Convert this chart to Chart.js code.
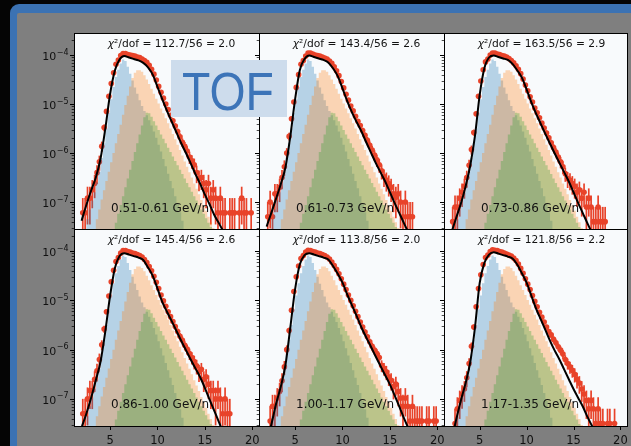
<!DOCTYPE html>
<html>
<head>
<meta charset="utf-8">
<title>TOF template fits</title>
<script src="https://cdn.jsdelivr.net/npm/chart.js@4.4.1/dist/chart.umd.min.js"></script>
<style>
  html, body { margin: 0; padding: 0; background: #050505; overflow: hidden; }
  #stage { position: relative; width: 631px; height: 446px; overflow: hidden; background: #050505; }
  #frame { position: absolute; left: 10px; top: 4px; width: 640px; height: 460px; background: #3b72b3; border-top-left-radius: 9px; }
  #sheet { position: absolute; left: 17px; top: 13px; width: 640px; height: 460px; background: #7f7f7f; border-top-left-radius: 2px; }
  canvas.panel { position: absolute; left: 0; top: 0; }
  #tof { position: absolute; left: 171px; top: 60px; width: 116px; height: 57px; background: #cddcec; overflow: hidden; }
  #tof span { position: absolute; left: 10.7px; top: 5px; font-family: "Liberation Sans", Arial, sans-serif;
              font-size: 53px; line-height: 53px; color: #3c74b8; transform: scaleX(0.875); transform-origin: 0 0; white-space: nowrap; }
</style>
</head>
<body>
<div id="stage">
  <div id="frame"></div>
  <div id="sheet"></div>
  <div id="tof"><span>TOF</span></div>
</div>
<script>
// ---- labels -------------------------------------------------------------
const ENERGY_BINS = ['0.51-0.61 GeV/n', '0.61-0.73 GeV/n', '0.73-0.86 GeV/n',
                     '0.86-1.00 GeV/n', '1.00-1.17 GeV/n', '1.17-1.35 GeV/n'];
const CHI2 = [112.7, 143.4, 163.5, 145.4, 113.8, 121.8];
const NDOF = 56;

// ---- axes ---------------------------------------------------------------
const X_TICKS = [5, 10, 15, 20];
const Y_TICKS = [1e-4, 1e-5, 1e-6, 1e-7];
const Y_TICK_EXP = ['−4', '−5', '−6', '−7'];

// ---- binning (bin centres) ----------------------------------------------
const BIN_FIRST = 2.125, BIN_STEP = 0.25;   // measured spectrum and templates
const FIT_FIRST = 2.0, FIT_STEP = 0.5;      // total fit curve

// ---- template components (log10 of normalised counts), shared shape ------
const BLUE_FIRST = 2.125;
const blueLog = [-7.80,-7.55,-7.35,-7.15,-6.97,-6.80,-6.60,-6.38,-6.10,-5.80,-5.50,-5.18,
                 -4.90,-4.65,-4.45,-4.30,-4.17,-4.09,-4.12,-4.24,-4.38,-4.52,-4.66,-4.79,
                 -4.92,-5.04,-5.14,-5.23,-5.33,-5.44,-5.56,-5.69,-5.83,-5.97,-6.12,-6.27,
                 -6.42,-6.57,-6.72,-6.88,-7.04,-7.21,-7.38,-7.56,-7.75,-7.95];
const ORANGE_FIRST = 3.125;
const orangeLog = [-7.75,-7.55,-7.35,-7.15,-6.95,-6.76,-6.57,-6.38,-6.19,-6.00,-5.80,-5.61,
                   -5.42,-5.22,-5.02,-4.83,-4.64,-4.47,-4.36,-4.31,-4.31,-4.34,-4.41,-4.50,
                   -4.59,-4.69,-4.79,-4.89,-4.99,-5.09,-5.19,-5.29,-5.39,-5.50,-5.61,-5.72,
                   -5.83,-5.94,-6.05,-6.17,-6.28,-6.39,-6.50,-6.62,-6.73,-6.84,-6.96,-7.07,
                   -7.18,-7.30,-7.41,-7.53,-7.64];
const GREEN_FIRST = 5.125;
const greenLog = [-7.77,-7.60,-7.42,-7.24,-7.06,-6.88,-6.70,-6.52,-6.34,-6.16,-5.98,-5.80,
                  -5.62,-5.44,-5.27,-5.18,-5.19,-5.26,-5.35,-5.44,-5.53,-5.62,-5.71,-5.80,
                  -5.89,-5.98,-6.07,-6.16,-6.25,-6.34,-6.43,-6.52,-6.61,-6.70,-6.79,-6.88,
                  -6.97,-7.06,-7.15,-7.24,-7.33,-7.42,-7.51,-7.60,-7.69];

// ---- total fit per energy bin (log10) ------------------------------------
const fitLog = [
  [-7.38,-7.06,-6.77,-6.50,-6.11,-5.50,-4.80,-4.32,-4.09,-4.02,-4.05,-4.08,-4.11,-4.16,-4.25,-4.40,
   -4.65,-4.90,-5.14,-5.36,-5.58,-5.80,-6.00,-6.21,-6.43,-6.63,-6.85,-7.05,-7.27,-7.44,-7.62],
  [-7.50,-7.22,-6.93,-6.63,-6.28,-5.66,-4.91,-4.31,-4.08,-4.01,-4.04,-4.07,-4.10,-4.15,-4.27,-4.43,
   -4.68,-4.94,-5.17,-5.37,-5.56,-5.78,-5.99,-6.20,-6.39,-6.58,-6.80,-7.02,-7.23,-7.44,-7.64],
  [-7.62,-7.32,-7.03,-6.68,-6.25,-5.65,-4.82,-4.27,-4.05,-4.01,-4.04,-4.07,-4.10,-4.18,-4.31,-4.46,
   -4.70,-4.96,-5.19,-5.40,-5.61,-5.81,-6.01,-6.20,-6.39,-6.58,-6.80,-7.02,-7.23,-7.44,-7.64],
  [-7.58,-7.30,-6.98,-6.62,-6.24,-5.63,-4.91,-4.35,-4.10,-4.04,-4.07,-4.10,-4.13,-4.18,-4.33,-4.50,
   -4.76,-5.03,-5.23,-5.42,-5.62,-5.82,-6.01,-6.20,-6.38,-6.56,-6.78,-7.02,-7.25,-7.48,-7.72],
  [-7.86,-7.52,-7.10,-6.75,-6.30,-5.55,-4.78,-4.27,-4.08,-4.04,-4.07,-4.10,-4.13,-4.17,-4.30,-4.46,
   -4.64,-4.88,-5.10,-5.32,-5.55,-5.75,-5.94,-6.14,-6.33,-6.52,-6.71,-6.93,-7.16,-7.40,-7.62],
  [-7.86,-7.42,-7.03,-6.68,-6.25,-5.55,-4.65,-4.24,-4.07,-4.02,-4.05,-4.08,-4.11,-4.15,-4.27,-4.45,
   -4.64,-4.90,-5.16,-5.38,-5.60,-5.82,-6.02,-6.20,-6.40,-6.60,-6.80,-6.98,-7.16,-7.37,-7.56]
];

// ---- measured spectra (log10) and relative errors ------------------------
const dataLog = [
  [-7.22,-7.22,-6.92,-6.92,-6.75,-6.62,-6.40,-6.18,-5.86,-5.48,-5.15,-4.84,
   -4.58,-4.36,-4.19,-4.10,-4.01,-3.97,-3.97,-3.99,-4.00,-4.01,-4.02,-4.04,
   -4.05,-4.08,-4.11,-4.15,-4.21,-4.29,-4.39,-4.51,-4.64,-4.76,-4.88,-5.00,
   -5.11,-5.23,-5.34,-5.45,-5.56,-5.67,-5.78,-5.86,-5.96,-6.08,-6.16,-6.24,
   -6.40,-6.52,-6.50,-6.62,-6.75,-6.62,-6.92,-6.75,-6.92,-7.22,-6.92,-7.22,
   -7.22,null,-7.22,-7.22,-7.22,null,-7.22,-6.92,-7.22,-7.22,null,-7.22],
  [-7.30,-7.00,-7.30,-6.83,-6.83,-6.70,-6.50,-6.28,-6.00,-5.66,-5.30,-4.96,
   -4.66,-4.40,-4.19,-4.11,-4.02,-3.96,-3.96,-3.98,-4.00,-4.01,-4.02,-4.04,
   -4.06,-4.08,-4.12,-4.17,-4.24,-4.32,-4.42,-4.54,-4.67,-4.80,-4.92,-5.04,
   -5.14,-5.25,-5.35,-5.44,-5.54,-5.64,-5.74,-5.84,-5.94,-6.04,-6.14,-6.24,
   -6.36,-6.48,-6.55,-6.62,-6.70,-6.83,-6.90,-6.83,-7.00,-7.30,-7.00,-7.30,
   -7.30,-7.30,null,null,null,null,null,null,null,null,null,null],
  [-7.40,-7.10,-7.10,-6.92,-6.80,-6.68,-6.50,-6.25,-5.93,-5.58,-5.20,-4.84,
   -4.53,-4.30,-4.14,-4.08,-4.00,-3.96,-3.96,-3.98,-3.99,-4.01,-4.02,-4.04,
   -4.07,-4.11,-4.16,-4.22,-4.29,-4.38,-4.49,-4.61,-4.73,-4.85,-4.96,-5.08,
   -5.18,-5.28,-5.39,-5.49,-5.59,-5.69,-5.79,-5.89,-5.98,-6.08,-6.18,-6.28,
   -6.42,-6.52,-6.55,-6.62,-6.68,-6.80,-6.75,-6.92,-6.80,-7.10,-6.92,-7.10,
   -7.40,-7.40,-7.10,-7.40,-7.40,-7.40,null,null,null,null,null,null],
  [-7.30,-7.30,-7.00,-6.83,-6.83,-6.60,-6.43,-6.20,-5.90,-5.58,-5.23,-4.91,
   -4.62,-4.39,-4.21,-4.13,-4.04,-3.99,-3.99,-4.01,-4.02,-4.04,-4.05,-4.07,
   -4.09,-4.12,-4.17,-4.23,-4.31,-4.40,-4.51,-4.63,-4.76,-4.89,-5.01,-5.12,
   -5.23,-5.33,-5.43,-5.53,-5.63,-5.73,-5.81,-5.91,-5.99,-6.08,-6.16,-6.24,
   -6.33,-6.45,-6.40,-6.60,-6.55,-6.70,-6.83,-6.83,-7.00,-6.83,-7.00,-7.30,
   -7.00,-7.30,-7.30,null,null,null,null,null,null,null,null,null],
  [null,-7.45,-7.15,-7.15,-6.98,-6.85,-6.63,-6.35,-6.00,-5.61,-5.20,-4.82,
   -4.52,-4.30,-4.15,-4.09,-4.02,-3.98,-3.99,-4.01,-4.02,-4.04,-4.05,-4.07,
   -4.09,-4.12,-4.16,-4.22,-4.29,-4.37,-4.46,-4.56,-4.67,-4.78,-4.89,-5.00,
   -5.11,-5.22,-5.33,-5.44,-5.54,-5.64,-5.74,-5.84,-5.93,-6.01,-6.08,-6.16,
   -6.32,-6.38,-6.45,-6.55,-6.62,-6.75,-6.70,-6.85,-6.98,-7.15,-6.98,-7.15,
   -7.45,-7.15,-7.45,-7.45,-7.45,-7.45,null,-7.45,-7.45,null,-7.45,-7.45],
  [null,-7.50,-7.20,-7.03,-6.90,-6.80,-6.57,-6.28,-5.93,-5.54,-5.13,-4.76,
   -4.48,-4.27,-4.13,-4.08,-4.01,-3.97,-3.98,-3.99,-4.01,-4.02,-4.04,-4.06,
   -4.08,-4.10,-4.14,-4.19,-4.26,-4.35,-4.45,-4.56,-4.67,-4.78,-4.90,-5.02,
   -5.13,-5.24,-5.34,-5.44,-5.54,-5.63,-5.70,-5.79,-5.86,-5.94,-6.01,-6.09,
   -6.20,-6.28,-6.35,-6.42,-6.50,-6.60,-6.68,-6.80,-6.90,-7.03,-7.20,-7.03,
   -7.20,-7.50,-7.20,-7.50,-7.50,null,-7.50,-7.50,null,-7.50,null,null]
];
const dataErr = [
  [1,1,.71,.71,.58,.5,.41,.34,.24,.16,.11,.08,
   0,0,0,0,0,0,0,0,0,0,0,0,
   0,0,0,0,0,0,0,0,0,0,0,0,
   .09,.11,.12,.14,.15,.18,.2,.22,.25,.28,.31,.34,
   .39,.45,.44,.5,.58,.5,.71,.58,.71,1,.71,1,
   1,0,1,1,1,0,1,.71,1,1,0,1],
  [1,.71,1,.58,.58,.5,.42,.35,.26,.18,.12,.08,
   0,0,0,0,0,0,0,0,0,0,0,0,
   0,0,0,0,0,0,0,0,0,0,0,0,
   .09,.1,.11,.12,.14,.15,.17,.2,.22,.25,.28,.31,
   .34,.39,.42,.46,.5,.58,.63,.58,.71,1,.71,1,
   1,1,0,0,0,0,0,0,0,0,0,0],
  [1,.71,.71,.58,.5,.44,.38,.3,.21,.14,.09,.06,
   0,0,0,0,0,0,0,0,0,0,0,0,
   0,0,0,0,0,0,0,0,0,0,0,0,
   0,0,.1,.12,.13,.15,.16,.18,.2,.23,.26,.29,
   .32,.36,.38,.41,.44,.5,.47,.58,.5,.71,.58,.71,
   1,1,.71,1,1,1,0,0,0,0,0,0],
  [1,1,.71,.58,.58,.45,.39,.32,.23,.16,.11,.08,
   0,0,0,0,0,0,0,0,0,0,0,0,
   0,0,0,0,0,0,0,0,0,0,0,0,
   0,.11,.12,.14,.15,.17,.19,.21,.23,.26,.28,.31,
   .33,.38,.35,.45,.42,.5,.58,.58,.71,.58,.71,1,
   .71,1,1,0,0,0,0,0,0,0,0,0],
  [0,1,.71,.71,.58,.5,.41,.32,.22,.14,.09,.06,
   0,0,0,0,0,0,0,0,0,0,0,0,
   0,0,0,0,0,0,0,0,0,0,0,0,
   0,0,.09,.1,.12,.13,.15,.16,.18,.2,.22,.24,
   .27,.29,.32,.35,.38,.45,.42,.5,.58,.71,.58,.71,
   1,.71,1,1,1,1,0,1,1,0,1,1],
  [0,1,.71,.58,.5,.45,.36,.28,.19,.12,.08,0,
   0,0,0,0,0,0,0,0,0,0,0,0,
   0,0,0,0,0,0,0,0,0,0,0,0,
   0,0,.09,.1,.11,.12,.13,.15,.16,.17,.19,.21,
   .22,.25,.27,.29,.32,.35,.39,.45,.5,.58,.71,.58,
   .71,1,.71,1,1,0,1,1,0,1,0,0]
];

// ---- page layout ---------------------------------------------------------
const PAGE_W = 631, PAGE_H = 446;
const COL_EDGES = [[74, 259], [259, 444], [444, 629]];
const ROW_EDGES = [[33, 229], [229, 426]];
const X_RANGE = [1.2, 20.7];
const Y_RANGE = [Math.pow(10, -7.55), Math.pow(10, -3.55)];

const PANEL_BG = '#f8fafc';
const POINT_COLOR = '#e8432a';
const TEXT_COLOR = '#111111';
const FONT = '"DejaVu Sans"';

Chart.defaults.font.family = 'DejaVu Sans';

function toPoints(logs, first, step) {
  const out = [];
  logs.forEach((v, i) => { if (v !== null) out.push({ x: first + i * step, y: Math.pow(10, v) }); });
  return out;
}

const panelDecor = {
  id: 'panelDecor',
  beforeDraw(chart) {
    const { ctx, chartArea: a } = chart;
    ctx.save();
    ctx.fillStyle = PANEL_BG;
    ctx.fillRect(a.left, a.top, a.right - a.left, a.bottom - a.top);
    ctx.restore();
  },
  beforeDatasetDraw(chart, args, opts) {
    if (args.index !== 4) return;           // error bars sit under the markers
    const { ctx, chartArea: a, scales: { x, y } } = chart;
    const p = opts.panel;
    ctx.save();
    ctx.beginPath();
    ctx.rect(a.left, a.top, a.right - a.left, a.bottom - a.top);
    ctx.clip();
    ctx.strokeStyle = POINT_COLOR;
    ctx.lineWidth = 1.7;
    dataLog[p].forEach((lv, i) => {
      const r = dataErr[p][i];
      if (lv === null || !r) return;
      const v = Math.pow(10, lv);
      const px = x.getPixelForValue(BIN_FIRST + i * BIN_STEP);
      const top = y.getPixelForValue(v * (1 + r));
      const bot = r >= 1 ? a.bottom + 2 : y.getPixelForValue(v * (1 - r));
      ctx.beginPath();
      ctx.moveTo(px, top);
      ctx.lineTo(px, bot);
      ctx.stroke();
    });
    ctx.restore();
  },
  afterDraw(chart, args, opts) {
    const { ctx, chartArea: a, scales: { x, y } } = chart;
    const p = opts.panel, col = p % 3, row = Math.floor(p / 3);
    ctx.save();
    ctx.strokeStyle = '#000';
    ctx.lineWidth = 1;
    ctx.strokeRect(a.left + 0.5, a.top + 0.5, a.right - a.left, a.bottom - a.top);

    // major ticks
    ctx.beginPath();
    Y_TICKS.forEach(v => {
      const py = Math.round(y.getPixelForValue(v)) + 0.5;
      ctx.moveTo(a.left - 4, py); ctx.lineTo(a.left, py);
    });
    X_TICKS.forEach(t => {
      const px = Math.round(x.getPixelForValue(t)) + 0.5;
      ctx.moveTo(px, a.bottom); ctx.lineTo(px, a.bottom + 4);
    });
    ctx.stroke();

    // minor log ticks
    ctx.lineWidth = 0.7;
    ctx.beginPath();
    for (let e = -8; e <= -4; e++) {
      for (let k = 2; k <= 9; k++) {
        const v = k * Math.pow(10, e);
        if (v < y.min || v > y.max) continue;
        const py = Math.round(y.getPixelForValue(v)) + 0.5;
        ctx.moveTo(a.left - 2.3, py); ctx.lineTo(a.left, py);
      }
    }
    ctx.stroke();

    ctx.fillStyle = TEXT_COLOR;
    ctx.textBaseline = 'alphabetic';

    // chi2 / dof heading
    const rest = '²/dof = ' + CHI2[p].toFixed(1) + '/' + NDOF + ' = ' + (CHI2[p] / NDOF).toFixed(1);
    ctx.font = 'italic 10.7px ' + FONT;
    const w1 = ctx.measureText('χ').width;
    ctx.font = '10.7px ' + FONT;
    const w2 = ctx.measureText(rest).width;
    const sx = a.left + 97.5 - (w1 + w2) / 2;
    ctx.textAlign = 'left';
    ctx.font = 'italic 10.7px ' + FONT;
    ctx.fillText('χ', sx, a.top + 14);
    ctx.font = '10.7px ' + FONT;
    ctx.fillText(rest, sx + w1, a.top + 14);

    // energy bin
    ctx.font = '12px ' + FONT;
    ctx.fillText(ENERGY_BINS[p], a.left + 37, a.top + 178.5);

    // y tick labels on the first column
    if (col === 0) {
      ctx.textAlign = 'right';
      Y_TICKS.forEach((v, i) => {
        const py = y.getPixelForValue(v);
        const rx = a.left - 5.5;
        ctx.font = '8px ' + FONT;
        const sw = ctx.measureText(Y_TICK_EXP[i]).width;
        ctx.fillText(Y_TICK_EXP[i], rx, py - 0.5);
        ctx.font = '11px ' + FONT;
        ctx.fillText('10', rx - sw - 0.5, py + 5);
      });
    }
    // x tick labels on the bottom row
    if (row === 1) {
      ctx.textAlign = 'center';
      ctx.font = '11.5px ' + FONT;
      X_TICKS.forEach(t => ctx.fillText(String(t), x.getPixelForValue(t), a.bottom + 18));
    }
    ctx.restore();
  }
};

const stage = document.getElementById('stage');
const tofBox = document.getElementById('tof');

for (let p = 0; p < 6; p++) {
  const col = p % 3, row = Math.floor(p / 3);
  const [x0, x1] = COL_EDGES[col];
  const [y0, y1] = ROW_EDGES[row];
  const canvas = document.createElement('canvas');
  canvas.className = 'panel';
  canvas.width = PAGE_W;
  canvas.height = PAGE_H;
  stage.insertBefore(canvas, tofBox);

  new Chart(canvas, {
    type: 'line',
    data: {
      datasets: [
        { label: 'fit', data: toPoints(fitLog[p], FIT_FIRST, FIT_STEP), borderColor: '#000', borderWidth: 2,
          pointRadius: 0, fill: false, cubicInterpolationMode: 'monotone', order: 0 },
        { label: 'c', data: toPoints(greenLog, GREEN_FIRST, BIN_STEP), stepped: 'middle', fill: 'start',
          backgroundColor: 'rgba(44,160,44,0.3)', borderColor: 'rgba(0,0,0,0)', borderWidth: 0, pointRadius: 0, order: 1 },
        { label: 'b', data: toPoints(orangeLog, ORANGE_FIRST, BIN_STEP), stepped: 'middle', fill: 'start',
          backgroundColor: 'rgba(255,127,14,0.3)', borderColor: 'rgba(0,0,0,0)', borderWidth: 0, pointRadius: 0, order: 2 },
        { label: 'a', data: toPoints(blueLog, BLUE_FIRST, BIN_STEP), stepped: 'middle', fill: 'start',
          backgroundColor: 'rgba(31,119,180,0.3)', borderColor: 'rgba(0,0,0,0)', borderWidth: 0, pointRadius: 0, order: 3 },
        { label: 'data', data: toPoints(dataLog[p], BIN_FIRST, BIN_STEP), showLine: false,
          pointRadius: 2.8, pointBackgroundColor: POINT_COLOR, pointBorderColor: POINT_COLOR, pointBorderWidth: 0, order: 4 }
      ]
    },
    options: {
      responsive: false,
      animation: false,
      devicePixelRatio: 1,
      events: [],
      layout: { padding: { left: x0, top: y0, right: PAGE_W - x1, bottom: PAGE_H - y1 } },
      plugins: { legend: { display: false }, tooltip: { enabled: false }, panelDecor: { panel: p } },
      scales: {
        x: { type: 'linear', min: X_RANGE[0], max: X_RANGE[1], display: false },
        y: { type: 'logarithmic', min: Y_RANGE[0], max: Y_RANGE[1], display: false }
      }
    },
    plugins: [panelDecor]
  });
}
</script>
</body>
</html>
